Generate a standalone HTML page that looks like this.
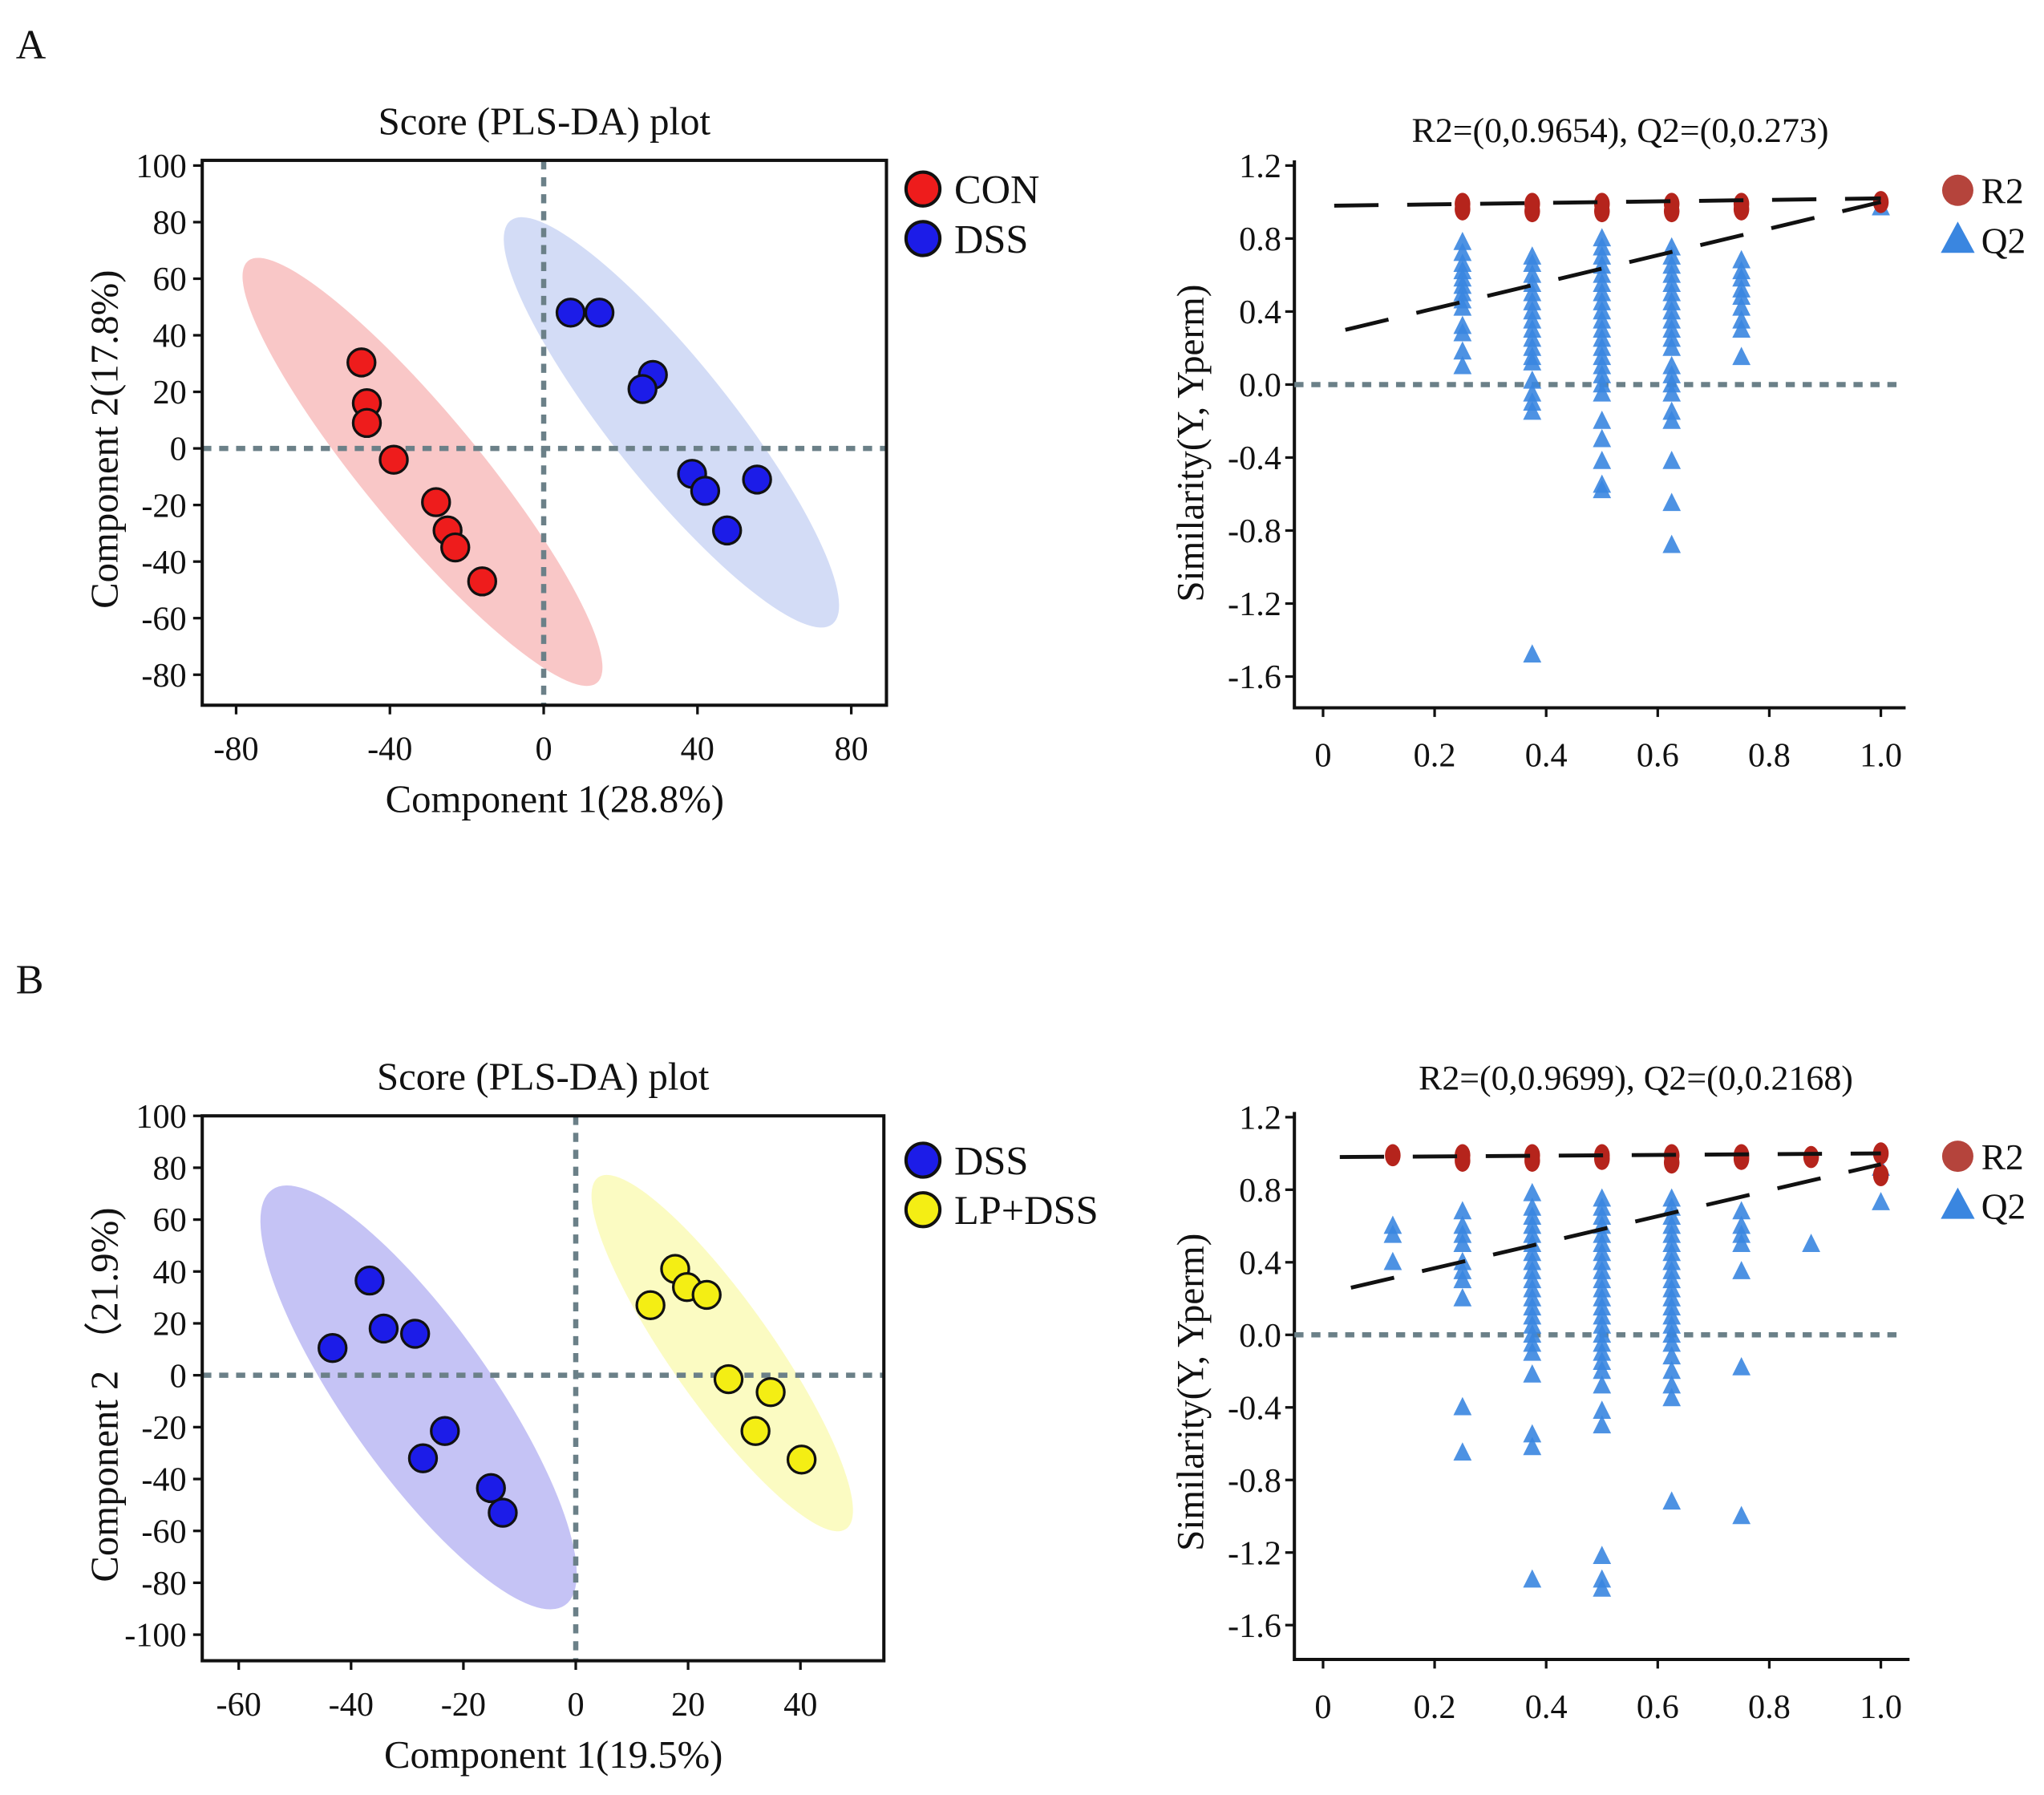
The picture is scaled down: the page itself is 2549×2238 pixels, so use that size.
<!DOCTYPE html>
<html><head><meta charset="utf-8">
<style>
html,body{margin:0;padding:0;background:#fff;}
svg{display:block;}
text{font-family:"Liberation Serif",serif;fill:#111;}
</style></head>
<body>
<svg id="fig" width="2549" height="2238" viewBox="0 0 1568 1377" xmlns="http://www.w3.org/2000/svg"></svg>
<script>
// ---------- Data ----------
const conX = [-47.4,-46,-46,-39,-28,-25,-23,-16];
const conY = [30.4,16,9,-4,-19,-29,-35,-47];
const dssAX = [7,14.5,28.4,25.7,38.6,42,47.7,55.5];
const dssAY = [48,48,26,21,-9,-15,-29,-11];
const dssBX = [-36.7,-43.3,-34.2,-28.6,-23.3,-27.2,-15.1,-13];
const dssBY = [36.5,10.5,18,16,-21.5,-32,-43.5,-53];
const lpX = [17.7,19.8,23.3,13.3,27.2,34.7,32,40.2];
const lpY = [41,34,31,27,-1.5,-6.5,-21.5,-32.5];

const permAGroups = [0.25,0.375,0.5,0.625,0.75,1.0];
const permAR2 = [[0.96,0.99],[0.95,0.99],[0.95,0.99],[0.95,0.99],[0.96,0.99],[1.0]];
const permAQ2 = [
 [0.78,0.72,0.66,0.62,0.58,0.54,0.5,0.46,0.42,0.32,0.28,0.18,0.1],
 [0.7,0.66,0.6,0.55,0.5,0.45,0.4,0.35,0.3,0.25,0.2,0.15,0.12,0.02,-0.05,-0.1,-0.15,-1.48],
 [0.8,0.75,0.7,0.65,0.6,0.55,0.5,0.45,0.4,0.35,0.3,0.25,0.2,0.15,0.1,0.05,0,-0.05,-0.2,-0.3,-0.42,-0.55,-0.58],
 [0.75,0.7,0.65,0.6,0.55,0.5,0.45,0.4,0.35,0.3,0.25,0.2,0.1,0.05,0,-0.05,-0.15,-0.2,-0.42,-0.65,-0.88],
 [0.68,0.62,0.58,0.52,0.48,0.42,0.35,0.3,0.15],
 [0.97]];
const permALineR2 = [0.02,0.98,1.0,1.02];
const permALineQ2 = [0.04,0.3,1.0,1.0];

const permBGroups = [0.125,0.25,0.375,0.5,0.625,0.75,0.875,1.0];
const permBR2 = [[0.99],[0.96,0.99],[0.96,0.99],[0.97,0.99],[0.95,0.99],[0.97,0.99],[0.98],[1.0,0.88]];
const permBQ2 = [
 [0.6,0.55,0.4],
 [0.68,0.6,0.55,0.5,0.4,0.35,0.3,0.2,-0.4,-0.65],
 [0.78,0.7,0.65,0.6,0.55,0.5,0.45,0.4,0.35,0.3,0.25,0.2,0.15,0.1,0.05,0,-0.05,-0.1,-0.22,-0.55,-0.62,-1.35],
 [0.75,0.7,0.65,0.6,0.55,0.5,0.45,0.4,0.35,0.3,0.25,0.2,0.15,0.1,0.05,0,-0.05,-0.1,-0.15,-0.2,-0.28,-0.42,-0.5,-1.22,-1.35,-1.4],
 [0.75,0.7,0.65,0.6,0.55,0.5,0.45,0.4,0.35,0.3,0.25,0.2,0.15,0.1,0.05,0,-0.05,-0.12,-0.2,-0.28,-0.35,-0.92],
 [0.68,0.6,0.55,0.5,0.35,-0.18,-1.0],
 [0.5],
 [0.92,0.73]];
const permBLineR2 = [0.03,0.98,1.0,1.0];
const permBLineQ2 = [0.05,0.26,1.0,0.94];

const scoreAXTicks = [-80,-40,0,40,80];
const scoreAYTicks = [100,80,60,40,20,0,-20,-40,-60,-80];
const scoreBXTicks = [-60,-40,-20,0,20,40];
const scoreBYTicks = [100,80,60,40,20,0,-20,-40,-60,-80,-100];
const permXTicks = [0,0.2,0.4,0.6,0.8,1.0];
const permXTickLabels = ["0","0.2","0.4","0.6","0.8","1.0"];
const permYTicks = [1.2,0.8,0.4,0.0,-0.4,-0.8,-1.2,-1.6];
const permYTickLabels = ["1.2","0.8","0.4","0.0","-0.4","-0.8","-1.2","-1.6"];

// ---------- Helpers ----------
const svg = document.getElementById('fig');
const NS = 'http://www.w3.org/2000/svg';
function mk(tag, attrs, parent){ const e=document.createElementNS(NS,tag); for(const k in attrs) e.setAttribute(k,attrs[k]); (parent||svg).appendChild(e); return e; }
function txt(x,y,s,size,anchor,parent){ const t=mk('text',{x:x,y:y,'font-size':size,'text-anchor':anchor||'middle'},parent); t.textContent=s; return t; }
function lin(d0,d1,p0,p1){ return v => p0 + (v-d0)*(p1-p0)/(d1-d0); }

let t = txt(12,45,'A',32,'start');


t = txt(12,762,'B',32,'start');



function scorePlot(o){
  const g = mk('g',{});
  
  
  const sx = lin(o.xd[0],o.xd[1],o.xp[0],o.xp[1]);
  const sy = lin(o.yd[0],o.yd[1],o.yp[0],o.yp[1]);
  o.ellipses.forEach(e=>{
    const el = mk('ellipse',{cx:e.cx,cy:e.cy,rx:e.rx,ry:e.ry,fill:e.fill,transform:`rotate(${e.a} ${e.cx} ${e.cy})`},g);
    
    
  });
  const zl = mk('line',{x1:sx(0),x2:sx(0),y1:o.box[1],y2:o.box[3],stroke:'#6b8088','stroke-width':4,'stroke-dasharray':'7,6'},g);
  
  
  const zh = mk('line',{x1:o.box[0],x2:o.box[2],y1:sy(0),y2:sy(0),stroke:'#6b8088','stroke-width':4,'stroke-dasharray':'7,6'},g);
  
  
  const b = mk('rect',{x:o.box[0],y:o.box[1],width:o.box[2]-o.box[0],height:o.box[3]-o.box[1],fill:'none',stroke:'#111','stroke-width':2.5},g);
  
  
  o.xt.forEach(v=>{
    mk('line',{x1:sx(v),x2:sx(v),y1:o.box[3],y2:o.box[3]+7,stroke:'#111','stroke-width':2},g);
    const l = txt(sx(v),o.box[3]+42,String(v),26,'middle',g);
    
    
  });
  o.yt.forEach(v=>{
    mk('line',{x1:o.box[0]-7,x2:o.box[0],y1:sy(v),y2:sy(v),stroke:'#111','stroke-width':2},g);
    const l = txt(o.box[0]-12,sy(v)+9,String(v),26,'end',g);
    
    
  });
  o.series.forEach(s=>{
    s.x.forEach((xv,i)=>{
      const c = mk('circle',{cx:sx(xv),cy:sy(s.y[i]),r:10.5,fill:s.color,stroke:'#111','stroke-width':2},g);
      
      
    });
  });
  o.series.forEach((s,i)=>{
    const ly = o.legY + i*38;
    const c = mk('circle',{cx:o.legX,cy:ly,r:13,fill:s.color,stroke:'#111','stroke-width':2.5},g);
    
    
    const l = txt(o.legX+24,ly+11,s.label,31,'start',g);
    
    
  });
  let tt = txt((o.box[0]+o.box[2])/2,o.box[1]-20,'Score (PLS-DA) plot',30,'middle',g);
  
  
  tt = txt((o.box[0]+o.box[2])/2+8,o.box[3]+82,o.xlabel,30,'middle',g);
  
  
  tt = txt(0,0,o.ylabel,30,'middle',g);
  tt.setAttribute('transform',`translate(90 ${(o.box[1]+o.box[3])/2+5}) rotate(-90)`);
  
  
}

scorePlot({name:'score-plot-a',box:[155,123,680,541],xd:[-80,80],xp:[181,653],yd:[0,100],yp:[344,127],
  xt:scoreAXTicks,yt:scoreAYTicks,
  ellipses:[{name:'con-ellipse',cx:324,cy:362,rx:210,ry:44,a:50.4,fill:'#f9c7c7'},
            {name:'dss-ellipse',cx:515,cy:324,rx:198,ry:46,a:51.4,fill:'#d3dcf6'}],
  series:[{name:'con',label:'CON',color:'#ee1c1c',x:conX,y:conY},{name:'dss',label:'DSS',color:'#1c1ce8',x:dssAX,y:dssAY}],
  legX:708,legY:145,xlabel:'Component 1(28.8%)',ylabel:'Component 2(17.8%)'});

scorePlot({name:'score-plot-b',box:[155,856,678,1274],xd:[-60,40],xp:[183,614],yd:[0,100],yp:[1055,856],
  xt:scoreBXTicks,yt:scoreBYTicks,
  ellipses:[{name:'dss-ellipse',cx:321,cy:1072,rx:195,ry:56,a:54.8,fill:'#c5c3f5'},
            {name:'lp-dss-ellipse',cx:554,cy:1038,rx:165,ry:39,a:54.8,fill:'#fbfbc2'}],
  series:[{name:'dss',label:'DSS',color:'#1c1ce8',x:dssBX,y:dssBY},{name:'lp-dss',label:'LP+DSS',color:'#f4ee14',x:lpX,y:lpY}],
  legX:708,legY:890,xlabel:'Component 1(19.5%)',ylabel:'Component 2 （21.9%)'});

function permPlot(o){
  const g = mk('g',{});
  
  
  const sx = lin(0,1,1015,1443);
  const sy = lin(0,1.2,o.y0,o.y12);
  const L=993, R=o.right, B=o.bottom, T=o.y12-4;
  const ax = mk('path',{d:`M${L} ${T} L${L} ${B} L${R} ${B}`,fill:'none',stroke:'#111','stroke-width':2.5},g);
  
  
  permXTicks.forEach((v,i)=>{
    mk('line',{x1:sx(v),x2:sx(v),y1:B,y2:B+7,stroke:'#111','stroke-width':2},g);
    const l = txt(sx(v),B+45,permXTickLabels[i],26,'middle',g);
    
    
  });
  permYTicks.forEach((v,i)=>{
    mk('line',{x1:L-7,x2:L,y1:sy(v),y2:sy(v),stroke:'#111','stroke-width':2},g);
    const l = txt(L-10,sy(v)+9,permYTickLabels[i],26,'end',g);
    
    
  });
  const z = mk('line',{x1:L,x2:R-4,y1:sy(0),y2:sy(0),stroke:'#6b8088','stroke-width':4,'stroke-dasharray':'7,6'},g);
  
  
  o.groups.forEach((gx,gi)=>{
    o.q2[gi].forEach(v=>{
      const x=sx(gx), y=sy(v);
      const p = mk('polygon',{points:`${x},${y-8} ${x-7},${y+6} ${x+7},${y+6}`,fill:'#3a86e0','fill-opacity':0.9},g);
      
      
    });
  });
  o.groups.forEach((gx,gi)=>{
    o.r2[gi].forEach(v=>{
      const c = mk('ellipse',{cx:sx(gx),cy:sy(v),rx:6,ry:8.5,fill:'#b5241c'},g);
      
      
    });
  });
  [[o.lr2,'r2-regression-line'],[o.lq2,'q2-regression-line']].forEach(([l,n])=>{
    const e = mk('line',{x1:sx(l[0]),y1:sy(l[1]),x2:sx(l[2]),y2:sy(l[3]),stroke:'#111','stroke-width':3,'stroke-dasharray':'34,22'},g);
    
    
  });
  const lc = mk('circle',{cx:1502,cy:o.legY,r:12,fill:'#b5443c'},g);
  
  
  let l = txt(1520,o.legY+10,'R2',28,'start',g);
  
  
  const ty=o.legY+38;
  const lt = mk('polygon',{points:`1502,${ty-14} 1489,${ty+10} 1515,${ty+10}`,fill:'#3a86e0'},g);
  
  
  l = txt(1520,ty+10,'Q2',28,'start',g);
  
  
  l = txt(o.titleX,o.titleY,o.title,27,'middle',g);
  
  
  l = txt(0,0,'Similarity(Y, Yperm)',29,'middle',g);
  l.setAttribute('transform',`translate(923 ${o.ylabY}) rotate(-90)`);
  
  
}

permPlot({name:'permutation-plot-a',y0:295,y12:127,bottom:543,right:1462,groups:permAGroups,r2:permAR2,q2:permAQ2,
  lr2:permALineR2,lq2:permALineQ2,legY:146,title:'R2=(0,0.9654), Q2=(0,0.273)',titleX:1243,titleY:109,ylabY:340});
permPlot({name:'permutation-plot-b',y0:1024,y12:857,bottom:1273,right:1465,groups:permBGroups,r2:permBR2,q2:permBQ2,
  lr2:permBLineR2,lq2:permBLineQ2,legY:887,title:'R2=(0,0.9699), Q2=(0,0.2168)',titleX:1255,titleY:836,ylabY:1068});
</script>
</body></html>
